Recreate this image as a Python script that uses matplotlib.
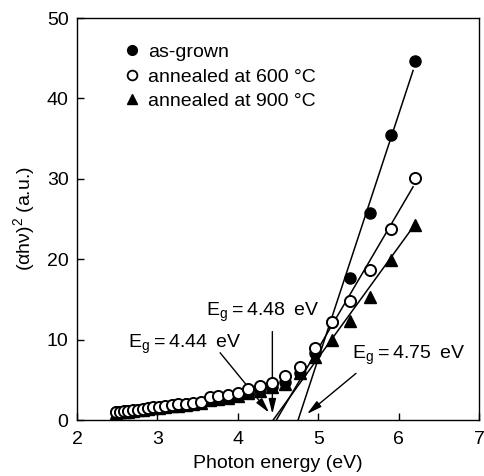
import matplotlib
matplotlib.use("Agg")
import matplotlib.pyplot as plt
import numpy as np
from matplotlib.lines import Line2D

plt.rcParams['font.family'] = ['Liberation Sans', 'DejaVu Sans']
plt.rcParams['mathtext.fontset'] = 'custom'
plt.rcParams['mathtext.rm'] = 'Liberation Sans'

# Photon energy (eV)
energy = [2.48, 2.53, 2.58, 2.64, 2.70, 2.76, 2.82, 2.88, 2.95, 3.02, 3.10,
          3.18, 3.26, 3.35, 3.44, 3.54, 3.65, 3.76, 3.88, 4.00, 4.13, 4.28,
          4.43, 4.59, 4.77, 4.96, 5.17, 5.39, 5.64, 5.90, 6.20]

as_grown = [0.95, 1.00, 1.05, 1.10, 1.15, 1.25, 1.30, 1.40, 1.50, 1.55, 1.65,
            1.75, 1.85, 1.95, 2.05, 2.15, 2.60, 2.75, 2.90, 3.10, 3.40, 3.70,
            4.10, 4.70, 5.90, 8.30, 12.2, 17.7, 25.8, 35.4, 44.7]

annealed_600 = [1.00, 1.05, 1.10, 1.15, 1.25, 1.30, 1.40, 1.50, 1.60, 1.65, 1.75,
                1.85, 1.95, 2.05, 2.15, 2.25, 2.85, 3.00, 3.10, 3.30, 3.80, 4.20,
                4.65, 5.50, 6.60, 8.90, 12.2, 14.8, 18.6, 23.8, 30.05]

annealed_900 = [0.90, 0.95, 1.00, 1.05, 1.15, 1.20, 1.30, 1.40, 1.45, 1.50, 1.60,
                1.70, 1.80, 1.90, 2.00, 2.10, 2.50, 2.60, 2.75, 2.95, 3.30, 3.55,
                4.10, 4.50, 5.80, 7.80, 10.0, 12.35, 15.3, 19.9, 24.25]

# Linear fits: band gap (x-intercept), slope, end of fitted range
fit_eg = [4.75, 4.48, 4.44]
fit_slope = [30.4, 17.06, 13.8]
fit_xend = [6.18, 6.18, 6.14]

labels = ['as-grown', 'annealed at 600 \u00b0C', 'annealed at 900 \u00b0C']

fig = plt.figure(figsize=(4.84, 4.76), dpi=100)
ax = fig.add_axes([0.159, 0.1176, 0.8307, 0.8445])

ms = 8
ax.plot(energy, as_grown, 'o', color='black', ms=ms, mec='black', zorder=3)
ax.plot(energy, annealed_600, 'o', mfc='white', mec='black', mew=1.4, ms=ms, zorder=4)
ax.plot(energy, annealed_900, '^', color='black', ms=ms, zorder=3)

for eg, s, xe in zip(fit_eg, fit_slope, fit_xend):
    xs = np.array([eg, xe])
    ax.plot(xs, s * (xs - eg), color='black', lw=1.1, zorder=2)

# annotations
arrow_kw = dict(arrowstyle='-|>,head_length=0.9,head_width=0.22', color='black',
                lw=1.0, mutation_scale=10, shrinkA=0, shrinkB=0)
fs = 14
ts = '\u2009'
def eg_label(v):
    return 'E$_\\mathregular{g}$' + ts + '=' + ts + v + ' ' + ts + 'eV'

ax.text(2.634, 8.96, eg_label('4.44'), fontsize=fs, ha='left', va='baseline')
ax.annotate('', xy=(4.39, 0.91), xytext=(3.78, 8.37), arrowprops=arrow_kw)
ax.text(3.61, 12.94, eg_label('4.48'), fontsize=fs, ha='left', va='baseline')
ax.annotate('', xy=(4.43, 0.75), xytext=(4.43, 11.0), arrowprops=arrow_kw)
ax.text(5.417, 7.67, eg_label('4.75'), fontsize=fs, ha='left', va='baseline')
ax.annotate('', xy=(4.86, 0.75), xytext=(5.47, 5.8), arrowprops=arrow_kw)

ax.set_xlim(2, 7)
ax.set_ylim(0, 50)
ax.set_xticks([2, 3, 4, 5, 6, 7])
ax.set_yticks([0, 10, 20, 30, 40, 50])
ax.tick_params(direction='in', length=5, width=1, labelsize=fs, top=False, right=False)
ax.tick_params(axis='x', pad=8)
ax.tick_params(axis='y', pad=6)
for sp in ax.spines.values():
    sp.set_linewidth(1.0)

ax.set_xlabel('Photon energy (eV)', fontsize=fs, labelpad=5)
ax.set_ylabel('(\u03b1h\u03bd)$^\\mathregular{2}$ (a.u.)', fontsize=fs, labelpad=6)

handles = [
    Line2D([], [], ls='none', marker='o', color='black', ms=7),
    Line2D([], [], ls='none', marker='o', mfc='white', mec='black', mew=1.3, ms=7),
    Line2D([], [], ls='none', marker='^', color='black', ms=7),
]
ax.legend(handles, labels, loc='upper left', bbox_to_anchor=(0.117, 0.937),
          frameon=False, fontsize=fs, handlelength=0.8, handletextpad=0.44,
          borderpad=0, borderaxespad=0, labelspacing=0.36)

fig.savefig('out.png', dpi=100)
